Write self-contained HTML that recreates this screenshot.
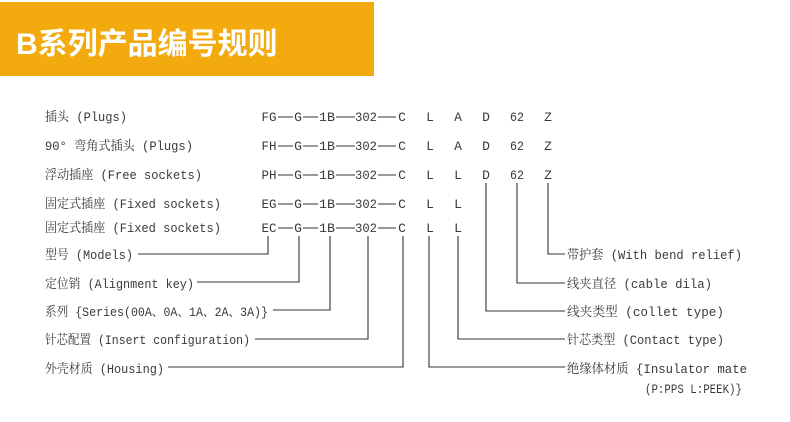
<!DOCTYPE html>
<html><head><meta charset="utf-8"><style>
html,body{margin:0;padding:0;background:#fff;}
body{width:790px;height:422px;overflow:hidden;position:relative;}
.hdr{position:absolute;left:0;top:2px;width:374px;height:74px;background:#F3AA0E;}
.hdr span{position:absolute;left:16px;top:17px;color:#fff;font:bold 30px "Liberation Sans","Noto Sans CJK SC",sans-serif;}
svg{position:absolute;left:0;top:0;}
text{font-family:"Liberation Mono","Noto Serif CJK SC",monospace;font-size:13px;fill:#3a3a3a;}
</style></head><body>
<div class="hdr"><span>B系列产品编号规则</span></div>
<svg width="790" height="422" viewBox="0 0 790 422">
<g lengthAdjust="spacingAndGlyphs">
<text x="45" y="121" textLength="82" lengthAdjust="spacingAndGlyphs">插头 (Plugs)</text>
<text x="45" y="150" textLength="148" lengthAdjust="spacingAndGlyphs">90° 弯角式插头 (Plugs)</text>
<text x="45" y="179" textLength="157" lengthAdjust="spacingAndGlyphs">浮动插座 (Free sockets)</text>
<text x="45" y="208" textLength="176" lengthAdjust="spacingAndGlyphs">固定式插座 (Fixed sockets)</text>
<text x="45" y="232" textLength="176" lengthAdjust="spacingAndGlyphs">固定式插座 (Fixed sockets)</text>
<text x="45" y="259" textLength="88" lengthAdjust="spacingAndGlyphs">型号 (Models)</text>
<text x="45" y="288" textLength="149" lengthAdjust="spacingAndGlyphs">定位销 (Alignment key)</text>
<text x="45" y="316" textLength="223" lengthAdjust="spacingAndGlyphs">系列 {Series(00A、0A、1A、2A、3A)}</text>
<text x="45" y="344" textLength="205" lengthAdjust="spacingAndGlyphs">针芯配置 (Insert configuration)</text>
<text x="45" y="373" textLength="119" lengthAdjust="spacingAndGlyphs">外壳材质 (Housing)</text>

<text x="567" y="259" textLength="175" lengthAdjust="spacingAndGlyphs">带护套 (With bend relief)</text>
<text x="567" y="288" textLength="145" lengthAdjust="spacingAndGlyphs">线夹直径 (cable dila)</text>
<text x="567" y="316" textLength="157" lengthAdjust="spacingAndGlyphs">线夹类型 (collet type)</text>
<text x="567" y="344" textLength="157" lengthAdjust="spacingAndGlyphs">针芯类型 (Contact type)</text>
<text x="567" y="373" textLength="180" lengthAdjust="spacingAndGlyphs">绝缘体材质 {Insulator mate</text>
<text x="645" y="393" textLength="97" lengthAdjust="spacingAndGlyphs">(P:PPS L:PEEK)}</text>
</g>
<g text-anchor="middle">
<text x="269" y="121" textLength="15" lengthAdjust="spacingAndGlyphs">FG</text><text x="298" y="121">G</text><text x="327" y="121" textLength="16" lengthAdjust="spacingAndGlyphs">1B</text><text x="366" y="121" textLength="22" lengthAdjust="spacingAndGlyphs">302</text><text x="402" y="121">C</text><text x="430" y="121">L</text><text x="458" y="121">A</text><text x="486" y="121">D</text><text x="517" y="121" textLength="14" lengthAdjust="spacingAndGlyphs">62</text><text x="548" y="121">Z</text>
<text x="269" y="150" textLength="15" lengthAdjust="spacingAndGlyphs">FH</text><text x="298" y="150">G</text><text x="327" y="150" textLength="16" lengthAdjust="spacingAndGlyphs">1B</text><text x="366" y="150" textLength="22" lengthAdjust="spacingAndGlyphs">302</text><text x="402" y="150">C</text><text x="430" y="150">L</text><text x="458" y="150">A</text><text x="486" y="150">D</text><text x="517" y="150" textLength="14" lengthAdjust="spacingAndGlyphs">62</text><text x="548" y="150">Z</text>
<text x="269" y="179" textLength="15" lengthAdjust="spacingAndGlyphs">PH</text><text x="298" y="179">G</text><text x="327" y="179" textLength="16" lengthAdjust="spacingAndGlyphs">1B</text><text x="366" y="179" textLength="22" lengthAdjust="spacingAndGlyphs">302</text><text x="402" y="179">C</text><text x="430" y="179">L</text><text x="458" y="179">L</text><text x="486" y="179">D</text><text x="517" y="179" textLength="14" lengthAdjust="spacingAndGlyphs">62</text><text x="548" y="179">Z</text>
<text x="269" y="208" textLength="15" lengthAdjust="spacingAndGlyphs">EG</text><text x="298" y="208">G</text><text x="327" y="208" textLength="16" lengthAdjust="spacingAndGlyphs">1B</text><text x="366" y="208" textLength="22" lengthAdjust="spacingAndGlyphs">302</text><text x="402" y="208">C</text><text x="430" y="208">L</text><text x="458" y="208">L</text>
<text x="269" y="232" textLength="15" lengthAdjust="spacingAndGlyphs">EC</text><text x="298" y="232">G</text><text x="327" y="232" textLength="16" lengthAdjust="spacingAndGlyphs">1B</text><text x="366" y="232" textLength="22" lengthAdjust="spacingAndGlyphs">302</text><text x="402" y="232">C</text><text x="430" y="232">L</text><text x="458" y="232">L</text>
</g>
<g stroke="#333" stroke-width="1.1" fill="none">
<path d="M278 117H293M303 117H318M336 117H355M378 117H396"/>
<path d="M278 146H293M303 146H318M336 146H355M378 146H396"/>
<path d="M278 175H293M303 175H318M336 175H355M378 175H396"/>
<path d="M278 204H293M303 204H318M336 204H355M378 204H396"/>
<path d="M278 228H293M303 228H318M336 228H355M378 228H396"/>
<path d="M268 236V254H138"/>
<path d="M299 236V282H197"/>
<path d="M330 236V310H273"/>
<path d="M368 236V339H255"/>
<path d="M403 236V367H168"/>
<path d="M429 236V367H565"/>
<path d="M458 236V339H565"/>
<path d="M486 183V311H565"/>
<path d="M517 183V283H565"/>
<path d="M548 183V254H565"/>
</g>
</svg>
</body></html>
